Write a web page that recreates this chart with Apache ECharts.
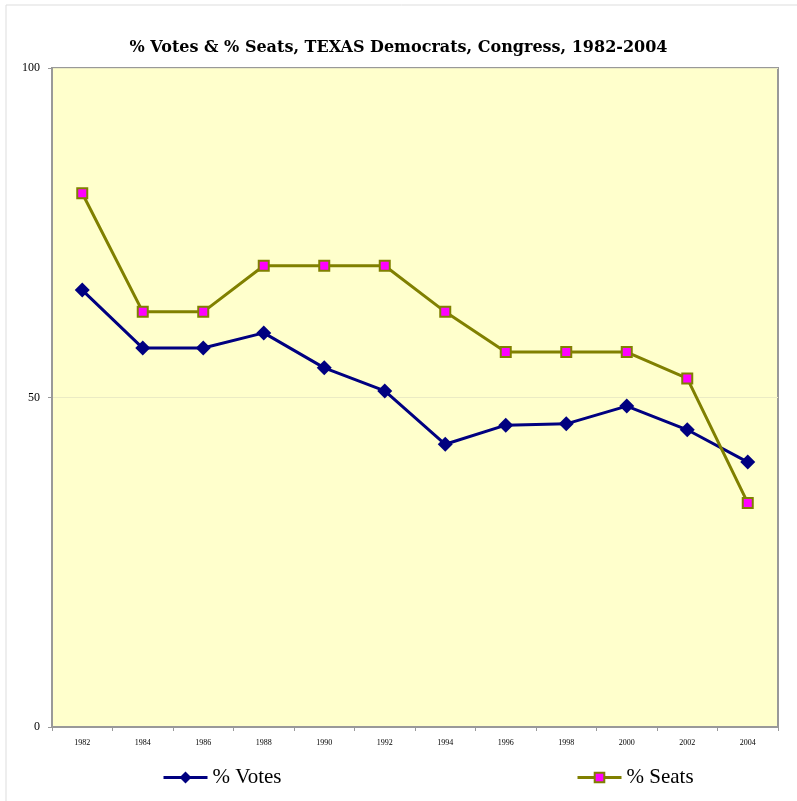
<!DOCTYPE html>
<html>
<head>
<meta charset="utf-8">
<script src="https://cdn.jsdelivr.net/npm/echarts@6/dist/echarts.min.js"></script>
<style>
  html, body { margin: 0; padding: 0; background: #fff; }
  #chart { width: 797px; height: 801px; }
</style>
</head>
<body>
<div id="chart"></div>
<script>
/** % Votes & % Seats, Texas Democrats */
var years = ['1982', '1984', '1986', '1988', '1990', '1992', '1994', '1996', '1998', '2000', '2002', '2004'];
var votes = [66.3, 57.5, 57.5, 59.8, 54.5, 51.0, 42.9, 45.8, 46.0, 48.7, 45.1, 40.2];
var seats = [81.0, 63.0, 63.0, 70.0, 70.0, 70.0, 63.0, 56.9, 56.9, 56.9, 52.9, 34.0];
var yTicks = [0, 50, 100];

var font = '"Liberation Serif", "DejaVu Serif", serif';
var chart = echarts.init(document.getElementById('chart'));
var option = {
  backgroundColor: '#fff',
  animation: false,
  title: {
    text: '% Votes & % Seats, TEXAS Democrats, Congress, 1982-2004',
    left: 'center',
    top: 35,
    textStyle: { fontFamily: '"DejaVu Serif", serif', fontSize: 16, fontWeight: 'bold', color: '#000' }
  },
  graphic: [{
    type: 'polyline',
    shape: { points: [[6, 801], [6, 5], [797, 5]] },
    style: { stroke: '#ddd', lineWidth: 1, fill: null }
  }],
  legend: [{
    data: ['% Votes'],
    left: 157,
    top: 762,
    itemWidth: 44,
    itemHeight: 15,
    itemGap: 4,
    lineStyle: { width: 3 },
    textStyle: { fontFamily: font, fontSize: 21, color: '#000' }
  }, {
    data: ['% Seats'],
    left: 571,
    top: 762,
    itemWidth: 44,
    itemHeight: 12,
    lineStyle: { width: 3 },
    textStyle: { fontFamily: font, fontSize: 21, color: '#000' }
  }],
  grid: {
    left: 52,
    right: 19,
    top: 68,
    bottom: 74,
    show: true,
    backgroundColor: '#ffffcc',
    borderColor: '#999',
    borderWidth: 2
  },
  xAxis: {
    type: 'category',
    data: years,
    boundaryGap: true,
    axisLine: { lineStyle: { color: '#999', width: 2 } },
    axisTick: { show: true, length: 4, lineStyle: { color: '#999' } },
    axisLabel: { fontFamily: font, fontSize: 8, color: '#000', margin: 12 },
    splitLine: { show: false }
  },
  yAxis: {
    type: 'value',
    min: 0,
    max: 100,
    interval: 50,
    axisLine: { show: true, lineStyle: { color: '#999', width: 2 } },
    axisTick: { show: true, length: 4, lineStyle: { color: '#999' } },
    axisLabel: {
      fontFamily: font, fontSize: 12, color: '#000', margin: 12,
      formatter: function (v) { return yTicks.indexOf(v) >= 0 ? String(v) : ''; }
    },
    splitLine: { show: true, lineStyle: { color: '#ebebc4', width: 1 } }
  },
  series: [{
    name: '% Votes',
    type: 'line',
    data: votes,
    symbol: 'diamond',
    symbolSize: 15,
    lineStyle: { color: '#000080', width: 3 },
    itemStyle: { color: '#000080' }
  }, {
    name: '% Seats',
    type: 'line',
    data: seats,
    symbol: 'rect',
    symbolSize: 10,
    lineStyle: { color: '#808000', width: 3 },
    itemStyle: { color: '#ff00ff', borderColor: '#808000', borderWidth: 2 }
  }]
};

chart.setOption(option);
</script>
</body>
</html>
